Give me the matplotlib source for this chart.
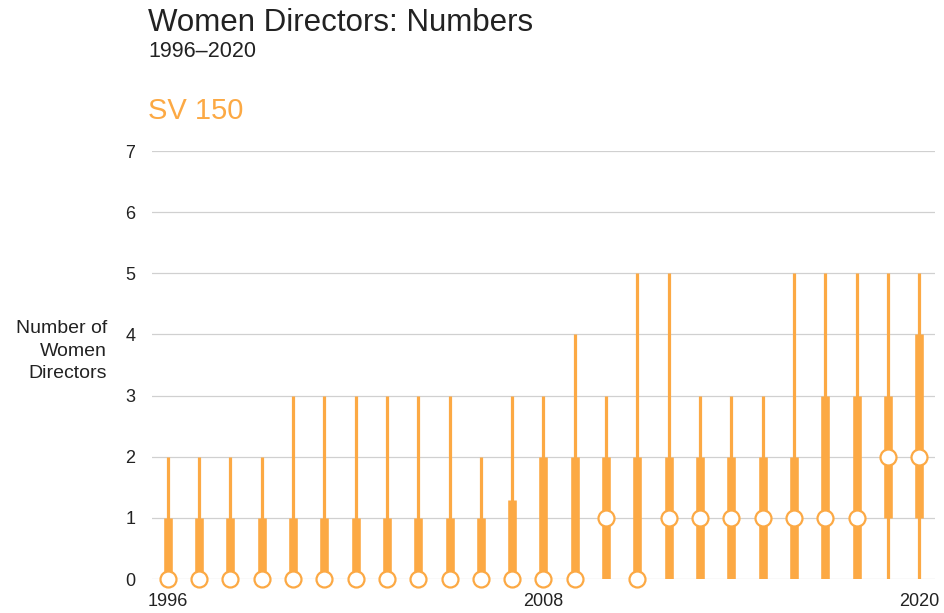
import matplotlib.pyplot as plt
import matplotlib as mpl

mpl.rcParams.update({
    "font.family": ["Liberation Sans", "DejaVu Sans"],
    "font.size": 12,
})

years = list(range(1996, 2021))
mins = [0] * 25
q1 = [0] * 23 + [1, 1]
medians = [0, 0, 0, 0, 0, 0, 0, 0, 0, 0, 0, 0, 0, 0, 1, 0, 1, 1, 1, 1, 1, 1, 1, 2, 2]
q3 = [1, 1, 1, 1, 1, 1, 1, 1, 1, 1, 1, 1.3, 2, 2, 2, 2, 2, 2, 2, 2, 2, 3, 3, 3, 4]
maxs = [2, 2, 2, 2, 3, 3, 3, 3, 3, 3, 2, 3, 3, 4, 3, 5, 5, 3, 3, 3, 5, 5, 5, 5, 5]

ORANGE = "#FCA944"

fig = plt.figure(figsize=(9.44, 6.13), dpi=100)
ax = fig.add_axes([152 / 944, 1 - 579 / 613, (935 - 152) / 944, (579 - 151) / 613])

ax.vlines(years, mins, maxs, color=ORANGE, lw=2.3, zorder=2)
ax.vlines(years, q1, q3, color=ORANGE, lw=6.2, zorder=3)
ax.plot(years, medians, "o", ms=11.5, mfc="white", mec=ORANGE, mew=1.6,
        zorder=4, clip_on=False)

ax.set_xlim(1995.5, 2020.5)
ax.set_ylim(0, 7)
ax.set_yticks(range(0, 8))
ax.set_xticks([1996, 2008, 2020])
ax.grid(axis="y", color="#d0d0d0", lw=0.9, zorder=0)
ax.tick_params(length=0, labelsize=13, colors="#222222")
ax.tick_params(axis="y", pad=12)
ax.tick_params(axis="x", pad=10)
for s in ax.spines.values():
    s.set_visible(False)

fig.text(148 / 944, 1 - 31 / 613, "Women Directors: Numbers", fontsize=22.5,
         color="#222222", ha="left", va="baseline")
fig.text(148 / 944, 1 - 57 / 613, "1996\u20132020", fontsize=15.5,
         color="#222222", ha="left", va="baseline")
fig.text(148 / 944, 1 - 119 / 613, "SV 150", fontsize=21,
         color=ORANGE, ha="left", va="baseline")
fig.text(107 / 944, 1 - 351 / 613, "Number of\nWomen\nDirectors", fontsize=14,
         color="#222222", ha="right", va="center", linespacing=1.45)

plt.savefig("out.png", dpi=100)
plt.close()
